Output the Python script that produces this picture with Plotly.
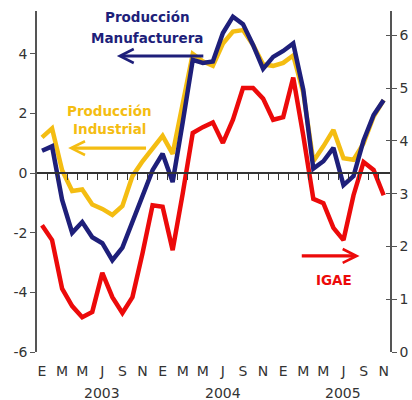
import plotly.graph_objects as go

# Months Jan 2003 .. Nov 2005 (index 0..34)
months = list(range(35))
month_letters = ["E", "F", "M", "A", "M", "J", "J", "A", "S", "O", "N", "D"]
tick_idx = list(range(0, 35, 2))
tick_text = [month_letters[i % 12] for i in tick_idx]
years = ["2003", "2004", "2005"]
year_pos = [6, 18, 30]
left_ticks = [-6, -4, -2, 0, 2, 4]
right_ticks = [0, 1, 2, 3, 4, 5, 6]

manufacturera = [0.75, 0.9, -0.9, -2.0, -1.64, -2.15, -2.35, -2.92, -2.5, -1.65,
                 -0.75, 0.1, 0.65, -0.3, 1.7, 3.8, 3.7, 3.75, 4.7, 5.25,
                 5.0, 4.3, 3.5, 3.9, 4.1, 4.35, 2.8, 0.15, 0.4, 0.85,
                 -0.4, -0.1, 1.1, 1.95, 2.45]
industrial = [1.2, 1.5, 0.1, -0.6, -0.55, -1.05, -1.2, -1.4, -1.1, -0.1,
              0.4, 0.85, 1.25, 0.65, 2.3, 4.0, 3.75, 3.6, 4.35, 4.75,
              4.8, 4.3, 3.65, 3.6, 3.7, 3.95, 2.7, 0.4, 0.9, 1.45,
              0.5, 0.45, 1.0, 1.9, 2.45]
igae = [2.4, 2.12, 1.2, 0.87, 0.66, 0.76, 1.5, 1.04, 0.74, 1.04,
        1.87, 2.78, 2.75, 1.93, 3.0, 4.15, 4.26, 4.35, 3.96, 4.4,
        5.0, 5.0, 4.8, 4.4, 4.45, 5.2, 4.1, 2.9, 2.82, 2.35,
        2.12, 2.97, 3.6, 3.45, 2.97]

NAVY = "#1e1f7a"
GOLD = "#f4bd12"
RED = "#ec0a0a"
AX = "#555555"
TXT = "#333333"
FONT = "DejaVu Sans"

fig = go.Figure()
fig.add_trace(go.Scatter(x=months, y=industrial, mode="lines",
                         line=dict(color=GOLD, width=4.5), showlegend=False))
fig.add_trace(go.Scatter(x=months, y=manufacturera, mode="lines",
                         line=dict(color=NAVY, width=4.5), showlegend=False))
fig.add_trace(go.Scatter(x=months, y=igae, mode="lines", yaxis="y2",
                         line=dict(color=RED, width=4.5), showlegend=False))
# dummy traces to activate helper axes (zero line with ticks, inner right ticks)
fig.add_trace(go.Scatter(x=[None], y=[None], xaxis="x2", yaxis="y",
                         showlegend=False, hoverinfo="skip"))
fig.add_trace(go.Scatter(x=[None], y=[None], xaxis="x", yaxis="y3",
                         showlegend=False, hoverinfo="skip"))

xr = [-0.5, 34.63]
yr2 = [0, 6.46]
fig.update_layout(
    width=412, height=400,
    margin=dict(l=37, r=22, t=11, b=48, autoexpand=False),
    paper_bgcolor="white", plot_bgcolor="white",
    font=dict(family=FONT, size=14, color=TXT),
    xaxis=dict(range=xr, tickvals=tick_idx, ticktext=tick_text,
               showline=False, ticks="", showgrid=False, zeroline=False,
               automargin=False,
               ticklabelstandoff=9, tickfont=dict(size=14, color=TXT)),
    xaxis2=dict(range=xr, overlaying="x", anchor="free", position=6 / 11.44,
                showline=True, linecolor="#333333", linewidth=1.5,
                ticks="outside", ticklen=6, tickwidth=1.2, tickcolor="#333333",
                tickvals=[i + 0.5 for i in range(34)], automargin=False,
                showticklabels=False, showgrid=False, zeroline=False),
    yaxis=dict(range=[-6, 5.44], tickvals=left_ticks,
               ticktext=[str(v) for v in left_ticks],
               showline=True, linecolor=AX, linewidth=1.5, automargin=False,
               ticks="outside", ticklen=5, tickcolor=AX, tickwidth=1.2,
               showgrid=False, zeroline=False, tickfont=dict(size=14, color=TXT)),
    yaxis2=dict(range=yr2, tickvals=right_ticks,
                overlaying="y", side="right", anchor="x", automargin=False,
                showline=True, linecolor=AX, linewidth=1.5,
                ticks="outside", ticklen=5, tickcolor=AX, tickwidth=1.2,
                showgrid=False, zeroline=False, tickfont=dict(size=14, color=TXT)),
    yaxis3=dict(range=yr2, tickvals=right_ticks,
                overlaying="y", side="right", anchor="x", automargin=False,
                showline=False, showticklabels=False,
                ticks="inside", ticklen=4, tickcolor=AX, tickwidth=1.2,
                showgrid=False, zeroline=False),
)

ann = []
for yr, p in zip(years, year_pos):
    ann.append(dict(x=p, y=-0.12, xref="x", yref="paper", text=yr,
                    showarrow=False, font=dict(size=14, color=TXT),
                    xanchor="center", yanchor="middle"))

def label(text, x, y, color, ref="y"):
    ann.append(dict(x=x, y=y, xref="x", yref=ref, text="<b>" + text + "</b>",
                    showarrow=False, font=dict(size=13.5, color=color, family=FONT),
                    xanchor="center", yanchor="middle"))

label("Producción", 10.45, 5.23, NAVY)
label("Manufacturera", 10.4, 4.53, NAVY)
label("Producción", 6.7, 2.1, GOLD)
label("Industrial", 6.75, 1.47, GOLD)
label("IGAE", 29.05, -3.6, RED)

def arrow(x_head, x_tail, y, color, ref="y"):
    ann.append(dict(x=x_head, y=y, ax=x_tail, ay=y, xref="x", yref=ref,
                    axref="x", ayref=ref, text="", showarrow=True,
                    arrowhead=5, arrowsize=0.85, arrowwidth=3.2,
                    arrowcolor=color, standoff=0))

arrow(7.45, 16.2, 3.93, NAVY)
arrow(2.6, 10.5, 0.84, GOLD)
arrow(31.6, 25.7, 1.82, RED, ref="y2")

fig.update_layout(annotations=ann)
fig.write_html("out.html", config={"displayModeBar": False},
               post_script="document.body.style.margin='0';")
